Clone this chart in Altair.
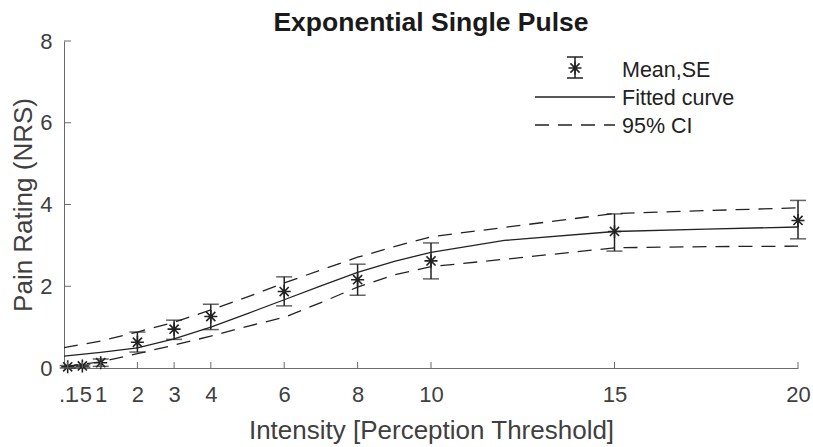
import altair as alt
import pandas as pd

# ---- data ----
intensity = [0.1, 0.5, 1, 2, 3, 4, 6, 8, 10, 15, 20]
mean_nrs = [0.03, 0.05, 0.13, 0.63, 0.95, 1.26, 1.87, 2.16, 2.62, 3.34, 3.61]
se_upper = [0.06, 0.08, 0.22, 0.88, 1.17, 1.56, 2.23, 2.54, 3.06, 3.77, 4.10]
se_lower = [0.00, 0.02, 0.04, 0.39, 0.70, 0.94, 1.52, 1.78, 2.18, 2.86, 3.16]

curve_x = [0, 1, 2, 3, 4, 5, 6, 7, 8, 9, 10, 12, 15, 17.5, 20]
fit_y = [0.29, 0.38, 0.49, 0.71, 1.00, 1.33, 1.67, 2.01, 2.34, 2.61, 2.83, 3.12, 3.34, 3.40, 3.45]
ci_upper = [0.50, 0.66, 0.88, 1.12, 1.42, 1.74, 2.08, 2.40, 2.71, 2.97, 3.21, 3.44, 3.78, 3.85, 3.92]
ci_lower = [0.03, 0.15, 0.35, 0.56, 0.78, 1.02, 1.24, 1.60, 1.98, 2.28, 2.48, 2.66, 2.94, 2.97, 2.98]

x_ticks = [0.1, 0.5, 1, 2, 3, 4, 6, 8, 10, 15, 20]
y_ticks = [0, 2, 4, 6, 8]

legend_labels = ["Mean,SE", "Fitted curve", "95% CI"]
title_text = "Exponential Single Pulse"
x_title = "Intensity [Perception Threshold]"
y_title = "Pain Rating (NRS)"

# ---- styling ----
W, H = 734, 327
FONT = "Liberation Sans"
INK = "#222222"
AXC = "#6b6b6b"
LAB = "#404040"
STAR = "M-1,0L1,0M0,-1L0,1M-0.7,-0.7L0.7,0.7M-0.7,0.7L0.7,-0.7"

xs = alt.Scale(domain=[0, 20], nice=False, zero=False)
ys = alt.Scale(domain=[0, 8], nice=False, zero=False)

xaxis = alt.Axis(
    values=x_ticks, title=x_title, ticks=False, grid=False,
    labelOverlap=False, labelFlush=False,
    labelExpr="datum.value < 1 ? replace(format(datum.value, '.1f'), '0.', '.') : format(datum.value, 'd')",
    labelPadding=16, titlePadding=12,
)
yaxis = alt.Axis(
    values=y_ticks, title=y_title, ticks=False, grid=False,
    labelPadding=12, titlePadding=3, format="d",
)

def X(f):
    return alt.X(f, type="quantitative", scale=xs, axis=xaxis)

def Y(f):
    return alt.Y(f, type="quantitative", scale=ys, axis=yaxis)

pts = pd.DataFrame({"x": intensity, "y": mean_nrs, "lo": se_lower, "hi": se_upper})
cur = pd.DataFrame({"x": curve_x, "fit": fit_y, "up": ci_upper, "low": ci_lower})

fit_line = alt.Chart(cur).mark_line(color=INK, strokeWidth=1.3).encode(x=X("x"), y=Y("fit"))
up_line = alt.Chart(cur).mark_line(color=INK, strokeWidth=1.3, strokeDash=[14, 9]).encode(x=X("x"), y=Y("up"))
low_line = alt.Chart(cur).mark_line(color=INK, strokeWidth=1.3, strokeDash=[14, 9]).encode(x=X("x"), y=Y("low"))

err = alt.Chart(pts).mark_rule(color=INK, strokeWidth=1.5).encode(x=X("x"), y=Y("lo"), y2="hi")
cap_hi = alt.Chart(pts).mark_tick(color=INK, orient="horizontal", size=16, thickness=1.5).encode(x=X("x"), y=Y("hi"))
cap_lo = alt.Chart(pts).mark_tick(color=INK, orient="horizontal", size=16, thickness=1.5).encode(x=X("x"), y=Y("lo"))
stars = alt.Chart(pts).mark_point(shape=STAR, size=170, filled=False, color=INK, strokeWidth=1.6, opacity=1).encode(x=X("x"), y=Y("y"))

xt = alt.Chart(pd.DataFrame({"x": x_ticks})).mark_rule(color=AXC, strokeWidth=1).encode(
    x=X("x"), y=alt.value(H), y2=alt.value(H - 6))
yt = alt.Chart(pd.DataFrame({"y": y_ticks})).mark_rule(color=AXC, strokeWidth=1).encode(
    y=Y("y"), x=alt.value(0), x2=alt.value(7))

one = alt.Data(values=[{"k": 1}])
LX = 511
leg = [
    alt.Chart(one).mark_rule(color=INK, strokeWidth=1.5).encode(x=alt.value(LX), y=alt.value(16), y2=alt.value(37)),
    alt.Chart(one).mark_rule(color=INK, strokeWidth=1.5).encode(x=alt.value(LX - 8), x2=alt.value(LX + 8), y=alt.value(16)),
    alt.Chart(one).mark_rule(color=INK, strokeWidth=1.5).encode(x=alt.value(LX - 8), x2=alt.value(LX + 8), y=alt.value(37)),
    alt.Chart(one).mark_point(shape=STAR, size=170, filled=False, color=INK, strokeWidth=1.6, opacity=1).encode(
        x=alt.value(LX), y=alt.value(27)),
    alt.Chart(one).mark_rule(color=INK, strokeWidth=1.3).encode(x=alt.value(471), x2=alt.value(551), y=alt.value(56)),
    alt.Chart(one).mark_rule(color=INK, strokeWidth=1.3, strokeDash=[14, 9]).encode(
        x=alt.value(471), x2=alt.value(551), y=alt.value(84)),
]
for lab, by in zip(legend_labels, [36.3, 64, 92.3]):
    leg.append(
        alt.Chart(one).mark_text(align="left", baseline="alphabetic", font=FONT, fontSize=21.5, color=INK).encode(
            x=alt.value(558), y=alt.value(by), text=alt.value(lab))
    )

title_mark = alt.Chart(one).mark_text(
    align="center", baseline="alphabetic", font=FONT, fontSize=26.5, fontWeight="bold", color="#1a1a1a"
).encode(x=alt.value(W / 2), y=alt.value(-10), text=alt.value(title_text))

chart = alt.layer(
    low_line, up_line, fit_line, err, cap_hi, cap_lo, stars, xt, yt, title_mark, *leg
).properties(
    width=W, height=H,
    autosize=alt.AutoSizeParams(type="none"),
    padding={"left": 64, "top": 41, "right": 15, "bottom": 79},
).configure_view(stroke=None).configure_axis(
    domainColor=AXC, domainWidth=1,
    labelFont=FONT, labelFontSize=22, labelColor=LAB,
    titleFont=FONT, titleFontSize=26, titleColor=LAB, titleFontWeight="normal",
)

chart.save("out.html", embed_options={"renderer": "svg", "actions": False})
